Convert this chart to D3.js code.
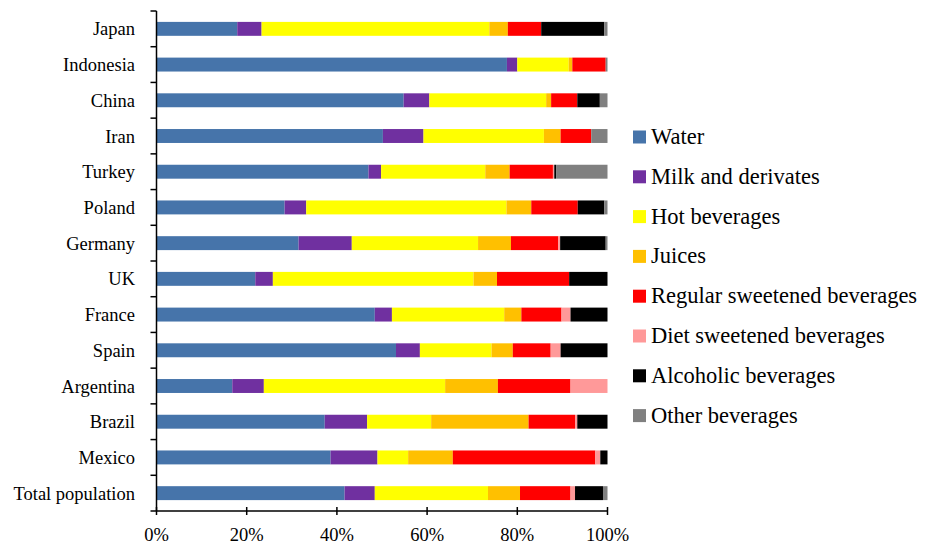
<!DOCTYPE html>
<html>
<head>
<meta charset="utf-8">
<script src="https://cdn.jsdelivr.net/npm/d3@7"></script>
<style>
  body { margin: 0; background: #fff; }
</style>
</head>
<body>
<div id="vis"></div>
<script>
const width = 933;
const height = 545;
const margin = { top: 11, right: 326, bottom: 34, left: 156.5 };
const fontFamily = "'Liberation Serif', 'Times New Roman', Times, 'DejaVu Serif', serif";

const countries = ["Japan", "Indonesia", "China", "Iran", "Turkey", "Poland", "Germany", "UK",
    "France", "Spain", "Argentina", "Brazil", "Mexico", "Total population"];

const seriesNames = ["Water", "Milk and derivates", "Hot beverages", "Juices",
    "Regular sweetened beverages", "Diet sweetened beverages", "Alcoholic beverages", "Other beverages"];

const seriesColors = ["#4674AA", "#7030A0", "#FFFF00", "#FFC000", "#FF0000", "#FF9999", "#000000", "#808080"];

// percent shares, one array per series, in the order of countries
const water     = [17.9, 77.7, 54.8, 50.2, 47.0, 28.4, 31.5, 21.9, 48.4, 53.1, 16.8, 37.3, 38.6, 41.7];
const milk      = [ 5.4,  2.3,  5.7,  9.0,  2.8,  4.8, 11.8,  3.9,  3.8,  5.3,  7.0,  9.4, 10.4,  6.7];
const hot       = [50.5, 11.4, 25.9, 26.7, 23.1, 44.4, 28.0, 44.5, 24.9, 15.9, 40.2, 14.2,  6.8, 25.1];
const juices    = [ 4.1,  0.8,  1.1,  3.7,  5.4,  5.5,  7.3,  5.2,  3.8,  4.7, 11.7, 21.6,  9.9,  7.1];
const regular   = [ 7.4,  7.4,  5.8,  6.8,  9.6, 10.3, 10.5, 16.0,  8.9,  8.4, 16.1, 10.3, 31.6, 11.2];
const diet      = [ 0.0,  0.0,  0.0,  0.0,  0.3,  0.0,  0.4,  0.0,  2.0,  2.2,  8.2,  0.5,  1.1,  1.0];
const alcoholic = [14.0,  0.0,  5.0,  0.0,  0.4,  5.9, 10.1,  8.5,  8.2, 10.4,  0.0,  6.7,  1.6,  6.2];
const other     = [ 0.7,  0.4,  1.7,  3.6, 11.4,  0.7,  0.4,  0.0,  0.0,  0.0,  0.0,  0.0,  0.0,  1.0];

const xTicks = [0, 20, 40, 60, 80, 100];

const seriesValues = [water, milk, hot, juices, regular, diet, alcoholic, other];

const table = countries.map((c, i) => {
    let row = { country: c };
    seriesNames.forEach((s, j) => row[s] = seriesValues[j][i]);
    return row;
});

const stacked = d3.stack().keys(seriesNames).offset(d3.stackOffsetExpand)(table);

const svg = d3.select("#vis").append("svg")
    .attr("width", width)
    .attr("height", height)
    .attr("font-family", fontFamily);

const x = d3.scaleLinear()
    .domain([0, 1])
    .range([margin.left, width - margin.right + 0.5]);

const y = d3.scaleBand()
    .domain(countries)
    .range([margin.top, height - margin.bottom])
    .paddingInner(0.61)
    .paddingOuter(0.305);

const color = d3.scaleOrdinal().domain(seriesNames).range(seriesColors);

svg.append("g")
    .selectAll("g")
    .data(stacked)
    .join("g")
    .attr("fill", d => color(d.key))
    .selectAll("rect")
    .data(d => d)
    .join("rect")
    .attr("x", d => x(d[0]))
    .attr("y", d => y(d.data.country))
    .attr("width", d => Math.max(0, x(d[1]) - x(d[0])))
    .attr("height", y.bandwidth());

// left axis, ticks sit between the categories
const yAxis = svg.append("g")
    .attr("transform", `translate(${margin.left},0)`);

yAxis.append("line")
    .attr("x1", 0).attr("x2", 0)
    .attr("y1", margin.top).attr("y2", height - margin.bottom)
    .attr("stroke", "#000").attr("stroke-width", 1.5);

const step = y.step();
yAxis.selectAll(".btick")
    .data(d3.range(countries.length + 1))
    .join("line")
    .attr("class", "btick")
    .attr("x1", -6).attr("x2", 0)
    .attr("y1", i => margin.top + i * step)
    .attr("y2", i => margin.top + i * step)
    .attr("stroke", "#000").attr("stroke-width", 1.5);

yAxis.selectAll("text")
    .data(countries)
    .join("text")
    .attr("x", -21.5)
    .attr("y", d => y(d) + y.bandwidth() / 2 + 6.5)
    .attr("text-anchor", "end")
    .style("font-size", "18.5px")
    .text(d => d);

// bottom axis
const xAxis = svg.append("g")
    .attr("transform", `translate(0,${height - margin.bottom})`);

xAxis.append("line")
    .attr("x1", x(0)).attr("x2", x(1))
    .attr("stroke", "#000").attr("stroke-width", 1.5);

xAxis.selectAll(".xtick")
    .data(xTicks)
    .join("line")
    .attr("class", "xtick")
    .attr("x1", d => x(d / 100)).attr("x2", d => x(d / 100))
    .attr("y1", -4).attr("y2", 4)
    .attr("stroke", "#000").attr("stroke-width", 1.5);

xAxis.selectAll("text")
    .data(xTicks)
    .join("text")
    .attr("x", d => x(d / 100))
    .attr("y", 30)
    .attr("text-anchor", "middle")
    .style("font-size", "18.5px")
    .text(d => d + "%");

// legend
const legend = svg.append("g")
    .attr("transform", "translate(633,137)");

const item = legend.selectAll("g")
    .data(seriesNames)
    .join("g")
    .attr("transform", (d, i) => `translate(0,${i * 39.8})`);

item.append("rect")
    .attr("x", 0).attr("y", -6.5)
    .attr("width", 13).attr("height", 13)
    .attr("fill", d => color(d));

item.append("text")
    .attr("x", 18)
    .attr("y", 7)
    .style("font-size", "22.5px")
    .text(d => d);
</script>
</body>
</html>
